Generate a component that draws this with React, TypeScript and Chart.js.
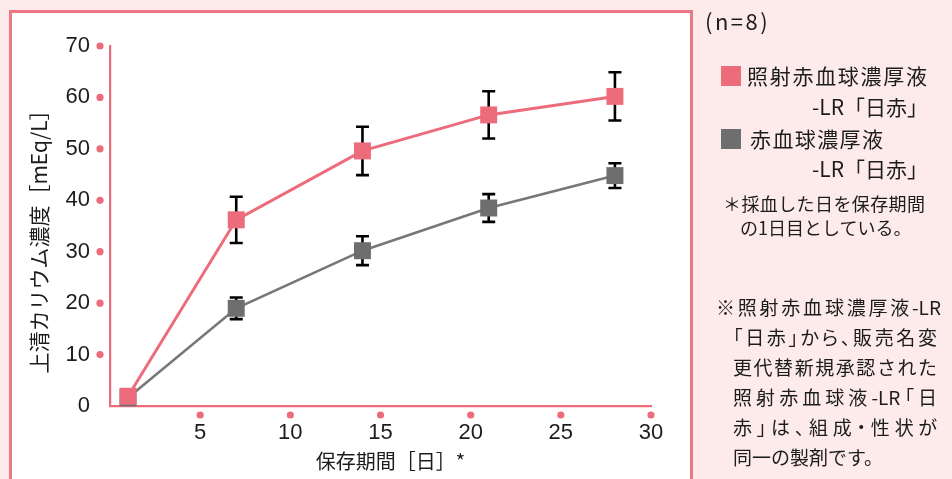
import React, { useEffect, useRef } from "react";
import { Chart, registerables } from "chart.js";

Chart.register(...registerables);

// ---- data ----
const days = [1, 7, 14, 21, 28];
const irradiatedMean = [1.9, 36.2, 49.6, 56.6, 60.2];
const irradiatedSD = [0, 4.5, 4.7, 4.6, 4.7];
const standardMean = [1.6, 19.0, 30.2, 38.5, 44.8];
const standardSD = [0, 2.1, 2.8, 2.7, 2.4];
const seriesNames = ["照射赤血球濃厚液-LR「日赤」", "赤血球濃厚液-LR「日赤」"];
const xTitle = "保存期間［日］*";
const yTitle = "上清カリウム濃度［mEq/L］";
const xRange = [0, 30];
const xStep = 5;
const yRange = [0, 70];
const yStep = 10;

// ---- styles ----
const PINK = "#ec6c7c";
const PANEL_BORDER = "#ee7785";
const GRAY = "#6e6e6e";
const BG = "#fdebeb";
const TEXT = "#1c1c1c";
const FONT = '"Liberation Sans", "Noto Sans CJK JP", sans-serif';
const JFONT = '"Noto Sans CJK JP", "Liberation Sans", sans-serif';

const errorBarPlugin = {
  id: "errorBars",
  beforeDatasetsDraw(chart: any) {
    const { ctx } = chart;
    const x = chart.scales.x;
    const y = chart.scales.y;
    ctx.save();
    ctx.strokeStyle = "#000";
    ctx.lineWidth = 2.6;
    chart.data.datasets.forEach((ds: any) => {
      const errs: number[] = ds.errors || [];
      ds.data.forEach((pt: any, i: number) => {
        const e = errs[i];
        if (!e) return;
        const px = x.getPixelForValue(pt.x);
        const top = y.getPixelForValue(pt.y + e);
        const bot = y.getPixelForValue(pt.y - e);
        const cap = 6.5;
        ctx.beginPath();
        ctx.moveTo(px, top);
        ctx.lineTo(px, bot);
        ctx.moveTo(px - cap, top);
        ctx.lineTo(px + cap, top);
        ctx.moveTo(px - cap, bot);
        ctx.lineTo(px + cap, bot);
        ctx.stroke();
      });
    });
    ctx.restore();
  },
};

const tickDotPlugin = {
  id: "tickDots",
  afterDraw(chart: any) {
    const { ctx, chartArea } = chart;
    const x = chart.scales.x;
    const y = chart.scales.y;
    ctx.save();
    ctx.fillStyle = PINK;
    x.ticks.forEach((t: any) => {
      if (t.value <= 0) return;
      ctx.beginPath();
      ctx.arc(x.getPixelForValue(t.value), chartArea.bottom + 9, 3.6, 0, Math.PI * 2);
      ctx.fill();
    });
    y.ticks.forEach((t: any) => {
      if (t.value <= 0) return;
      ctx.beginPath();
      ctx.arc(chartArea.left - 10, y.getPixelForValue(t.value), 3.6, 0, Math.PI * 2);
      ctx.fill();
    });
    ctx.restore();
  },
};

type TextLineProps = {
  text: string;
  left: number;
  cy: number;
  size: number;
  width?: number;
  right?: boolean;
  justify?: boolean;
  palt?: boolean;
  spacing?: number;
};

function TextLine({ text, left, cy, size, width, right, justify, palt, spacing }: TextLineProps) {
  const lh = size * 1.3;
  const style: React.CSSProperties = {
    position: "absolute",
    top: cy - lh / 2,
    fontSize: size,
    lineHeight: `${lh}px`,
    fontFamily: JFONT,
    color: TEXT,
    whiteSpace: "nowrap",
  };
  if (palt) style.fontFeatureSettings = '"palt"';
  if (spacing) style.letterSpacing = `${spacing}px`;
  if (right) {
    style.right = 952 - left;
  } else {
    style.left = left;
  }
  if (width !== undefined) {
    style.width = width;
  }
  if (justify) {
    style.textAlign = "justify";
    (style as any).textAlignLast = "justify";
  }
  return <div style={style}>{text}</div>;
}

export default function App() {
  const canvasRef = useRef<HTMLCanvasElement | null>(null);

  useEffect(() => {
    const canvas = canvasRef.current;
    if (!canvas) return;
    const chart = new Chart(canvas, {
      type: "line",
      data: {
        datasets: [
          {
            label: seriesNames[0],
            data: days.map((d, i) => ({ x: d, y: irradiatedMean[i] })),
            errors: irradiatedSD,
            borderColor: PINK,
            backgroundColor: PINK,
            borderWidth: 3,
            pointStyle: "rect",
            pointRadius: 12,
            pointHoverRadius: 12,
            pointBorderWidth: 0,
            pointBackgroundColor: PINK,
            tension: 0,
            clip: false,
          } as any,
          {
            label: seriesNames[1],
            data: days.map((d, i) => ({ x: d, y: standardMean[i] })),
            errors: standardSD,
            borderColor: "#777777",
            backgroundColor: GRAY,
            borderWidth: 2.6,
            pointStyle: "rect",
            pointRadius: 12,
            pointHoverRadius: 12,
            pointBorderWidth: 0,
            pointBackgroundColor: GRAY,
            tension: 0,
            clip: false,
          } as any,
        ],
      },
      options: {
        animation: false,
        responsive: false,
        maintainAspectRatio: false,
        events: [],
        layout: { padding: { left: 0, top: 46, right: 301, bottom: 0 } },
        plugins: {
          legend: { display: false },
          tooltip: { enabled: false },
        },
        scales: {
          x: {
            type: "linear",
            min: xRange[0],
            max: xRange[1],
            afterFit: (s: any) => {
              s.height = 73;
            },
            grid: { display: false, drawTicks: false },
            border: { display: true, color: PINK, width: 2.2 },
            ticks: {
              stepSize: xStep,
              padding: 14,
              color: TEXT,
              font: { family: FONT, size: 22 },
              callback: (v: any) => (v === 0 ? "" : String(v)),
            },
            title: {
              display: true,
              text: "\u3000" + xTitle,
              color: TEXT,
              font: { family: JFONT, size: 20 },
              padding: { top: 0, bottom: 5.5 },
            },
          },
          y: {
            type: "linear",
            min: yRange[0],
            max: yRange[1],
            afterFit: (s: any) => {
              s.width = 110;
            },
            grid: { display: false, drawTicks: false },
            border: { display: true, color: PINK, width: 2.2 },
            ticks: {
              stepSize: yStep,
              padding: 20,
              color: TEXT,
              font: { family: FONT, size: 22 },
            },
            title: {
              display: true,
              text: yTitle + "\u3000\u2002",
              color: TEXT,
              font: { family: JFONT, size: 21 },
              padding: { top: 26.5, bottom: 0 },
            },
          },
        },
      } as any,
      plugins: [errorBarPlugin, tickDotPlugin],
    });
    return () => chart.destroy();
  }, []);

  return (
    <div
      style={{
        position: "fixed",
        left: 0,
        top: 0,
        width: 952,
        height: 479,
        background: BG,
        overflow: "hidden",
        fontFamily: JFONT,
      }}
    >
      <div
        style={{
          position: "absolute",
          left: 9,
          top: 10,
          width: 684,
          height: 520,
          boxSizing: "border-box",
          background: "#ffffff",
          border: `3px solid ${PANEL_BORDER}`,
        }}
      />
      <canvas
        ref={canvasRef}
        width={952}
        height={479}
        style={{ position: "absolute", left: 0, top: 0, width: 952, height: 479 }}
      />
      <TextLine text="(n=8)" left={705} cy={20} size={22} spacing={2.5} />
      <div style={{ position: "absolute", left: 721, top: 66, width: 20, height: 20, background: PINK }} />
      <TextLine text="照射赤血球濃厚液" left={747} cy={76} size={21} width={180} justify />
      <TextLine text="-LR「日赤」" left={928} cy={107} size={21} right />
      <div style={{ position: "absolute", left: 721, top: 129, width: 20, height: 20, background: GRAY }} />
      <TextLine text="赤血球濃厚液" left={750} cy={139} size={21} width={133} justify />
      <TextLine text="-LR「日赤」" left={928} cy={169} size={21} right />
      <TextLine text="＊採血した日を保存期間" left={723} cy={204} size={18} width={202} justify />
      <TextLine text="の1日目としている。" left={740} cy={228} size={18} />
      <TextLine text="※照射赤血球濃厚液-LR" left={716} cy={307} size={19} width={225} justify />
      <TextLine text="「日赤」から、販売名変" left={733} cy={337} size={19} width={204} justify palt />
      <TextLine text="更代替新規承認された" left={733} cy={367} size={19} width={204} justify />
      <TextLine text="照射赤血球液-LR「日" left={733} cy={397} size={19} width={204} justify palt />
      <TextLine text="赤」は、組成・性状が" left={733} cy={427} size={19} width={204} justify palt />
      <TextLine text="同一の製剤です。" left={733} cy={457} size={19} />
    </div>
  );
}
